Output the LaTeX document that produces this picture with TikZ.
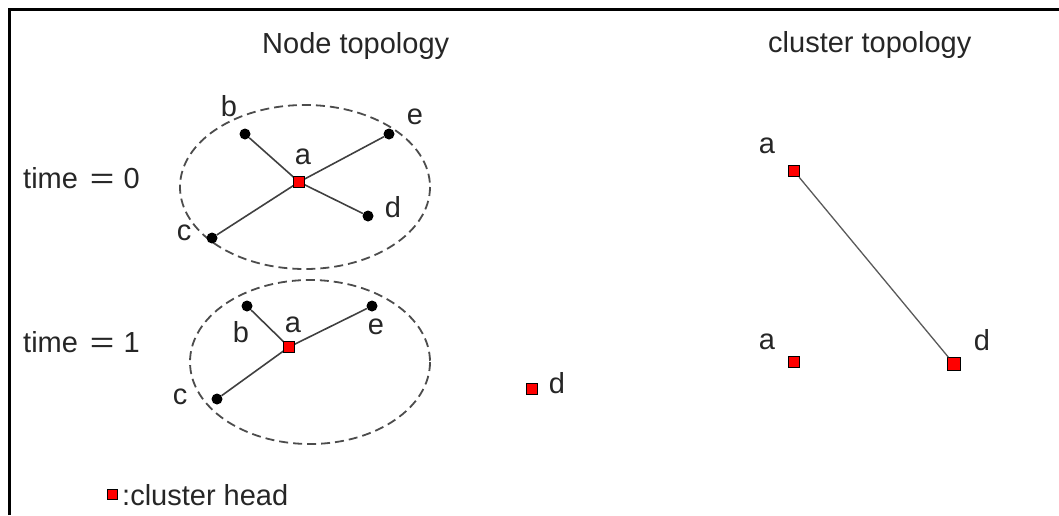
\documentclass[tikz,border=0pt]{standalone}
\usepackage{fontspec}
\setmainfont{Liberation Sans}
\newcommand{\wideeq}{\hspace{12pt}\scalebox{1.45}[1]{=}\hspace{9pt}}
\begin{document}
\begin{tikzpicture}[x=1pt,y=-1pt,
  txt/.style={font=\fontsize{29}{30}\selectfont, inner sep=0pt, text=black!85},
  dot/.style={circle, fill=black, minimum size=11pt, inner sep=0pt},
  head/.style={rectangle, fill=red, draw=black, line width=1pt, minimum size=11.5pt, inner sep=0pt},
  link/.style={draw=black!75, line width=1.6pt},
  clusterring/.style={draw=black!70, line width=1.8pt, dash pattern=on 9pt off 5pt}]
\useasboundingbox (0,0) rectangle (1059,515);
% frame
\draw[line width=2.6pt] (9.5,515) -- (9.5,9.5) -- (1059,9.5);
% titles
\node[txt, anchor=base west] (t1) at (262,53) {Node topology};
\node[txt, anchor=base west] (t2) at (768,52) {cluster topology};
\node[txt, anchor=base west] (tm0) at (23,188) {time\wideeq 0};
\node[txt, anchor=base west] (tm1) at (23,352) {time\wideeq 1};
% time 0
\draw[clusterring] (305,187) ellipse [x radius=125, y radius=82];
\node[dot] (b0) at (245,134) {};
\node[dot] (e0) at (389,134) {};
\node[dot] (d0) at (368,216) {};
\node[dot] (c0) at (212,238) {};
\draw[link] (299,182) -- (b0);
\draw[link] (299,182) -- (e0);
\draw[link] (299,182) -- (d0);
\draw[link] (299,182) -- (c0);
\node[head] (a0) at (299,182) {};
\node[txt] (lb0) at (229,106) {b};
\node[txt] (le0) at (415,117) {e};
\node[txt] (la0) at (303,157) {a};
\node[txt] (ld0) at (393,207) {d};
\node[txt] (lc0) at (184,233) {c};
% time 1
\draw[clusterring] (310,362) ellipse [x radius=120, y radius=82];
\node[dot] (b1) at (247,306) {};
\node[dot] (e1) at (372,306) {};
\node[dot] (c1) at (217,399) {};
\draw[link] (289,347) -- (b1);
\draw[link] (289,347) -- (e1);
\draw[link] (289,347) -- (c1);
\node[head] (a1) at (289,347) {};
\node[txt] (lb1) at (241,332) {b};
\node[txt] (la1) at (293,325) {a};
\node[txt] (le1) at (376,327) {e};
\node[txt] (lc1) at (180,397) {c};
\node[head] (d1) at (532,389) {};
\node[txt] (ld1) at (557,383) {d};
% cluster topology
\node[head] (ca0) at (794,171) {};
\node[txt] (lca0) at (767,146) {a};
\node[head] (ca1) at (794,362) {};
\node[txt] (lca1) at (767,342) {a};
\node[head, minimum size=12.5pt] (cd1) at (954,364) {};
\node[txt] (lcd1) at (982,340) {d};
\draw[link, draw=black!65, line width=1.3pt] (ca0) -- (cd1);
% legend
\node[head, minimum size=10pt] (lg) at (112,494) {};
\node[txt, anchor=base west] (lgt) at (122,505) {:cluster head};
\end{tikzpicture}
\end{document}
